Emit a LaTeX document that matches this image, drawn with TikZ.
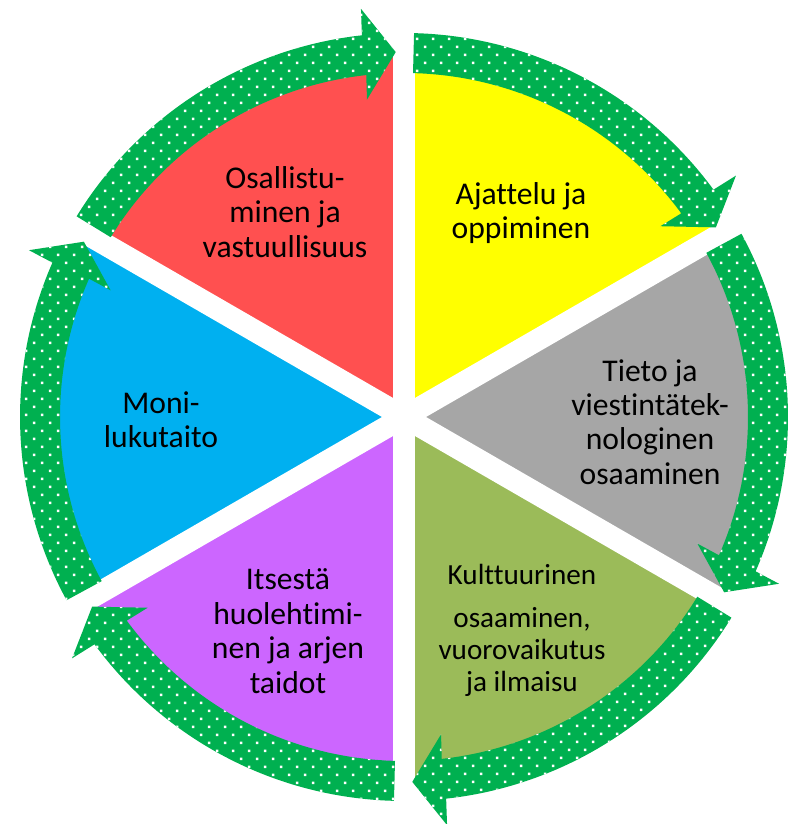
\documentclass[tikz,border=0pt]{standalone}
\usepackage{fontspec}
\setmainfont{Carlito}[Ligatures=NoCommon]
\usepackage{tikz}
\usetikzlibrary{calc,patterns}

\definecolor{osred}{HTML}{FF5050}
\definecolor{ajyellow}{HTML}{FFFF00}
\definecolor{tigray}{HTML}{A6A6A6}
\definecolor{kuolive}{HTML}{9BBB59}
\definecolor{itpurple}{HTML}{CC66FF}
\definecolor{moblue}{HTML}{00B0F0}
\definecolor{arrowgreen}{HTML}{00B050}

% small white dots on the arrows
\pgfdeclarepatternformonly{arrowdots}{\pgfpointorigin}{\pgfpoint{4.55pt}{4.55pt}}{\pgfpoint{4.55pt}{4.55pt}}{%
    \pgfpathrectangle{\pgfpoint{0.25pt}{0.25pt}}{\pgfpoint{0.7pt}{0.7pt}}%
    \pgfpathrectangle{\pgfpoint{2.525pt}{2.525pt}}{\pgfpoint{0.7pt}{0.7pt}}%
    \pgfusepath{fill}}

\begin{document}
\begin{tikzpicture}[
        lbl/.style={align=center, inner sep=0pt, font=\fontsize{9}{9.8}\selectfont},
        dotarrow/.style={fill=arrowgreen, postaction={pattern=arrowdots, pattern color=white}},
        gapline/.style={white, line width=0.22cm}
    ]

            \useasboundingbox (0,0) rectangle (8.03,8.24);
            \coordinate (hub) at (4.04,4.07);

            \begin{scope}[shift={(hub)}]
                % the six slices
                \foreach \a/\c in {90/osred, 30/ajyellow, -30/tigray, -90/kuolive, -150/itpurple, 150/moblue}
                    \fill[\c] (0,0) -- (\a:3.62) arc[start angle=\a, end angle=\a+60, radius=3.62] -- cycle;

                \foreach \a in {30,90,...,330}
                    \draw[gapline] (0,0) -- (\a:3.75);

                % arrows round the circle, clockwise
                \foreach \s in {88.5,28.5,-31.5,-91.5,-151.5,-211.5} {
                    \pgfmathsetmacro\hd{\s-52.2}
                    \pgfmathsetmacro\tp{\s-57.2}
                    \coordinate (headbase) at (\hd:3.65);
                    \coordinate (headtip) at (\tp:3.65);
                    \path[dotarrow] (\s:3.84) arc[start angle=\s, end angle=\hd, radius=3.84]
                        -- ($(headbase)!0.455cm!90:(headtip)$) -- (headtip)
                        -- ($(headbase)!0.455cm!-90:(headtip)$) -- (\hd:3.44)
                        arc[start angle=\hd, end angle=\s, radius=3.44] -- cycle;
                }
            \end{scope}

            \node[lbl] (osallistuminen) at (2.85,6.12) {Osallistu-\\minen ja\\vastuullisuus};
            \node[lbl] (ajattelu) at (5.21,6.11) {Ajattelu ja\\oppiminen};
            \node[lbl] (tieto) at (6.50,4.02) {Tieto ja\\viestintätek-\\nologinen\\osaaminen};
            \node[lbl, font=\fontsize{8.3}{9}\selectfont] (kulttuurinen) at (5.22,1.94)
                {Kulttuurinen\\[3.5pt]osaaminen,\\vuorovaikutus\\ja ilmaisu};
            \node[lbl] (itsesta) at (2.88,1.93) {Itsestä\\huolehtimi-\\nen ja arjen\\taidot};
            \node[lbl] (monilukutaito) at (1.61,4.04) {Moni-\\lukutaito};

\end{tikzpicture}
\end{document}
